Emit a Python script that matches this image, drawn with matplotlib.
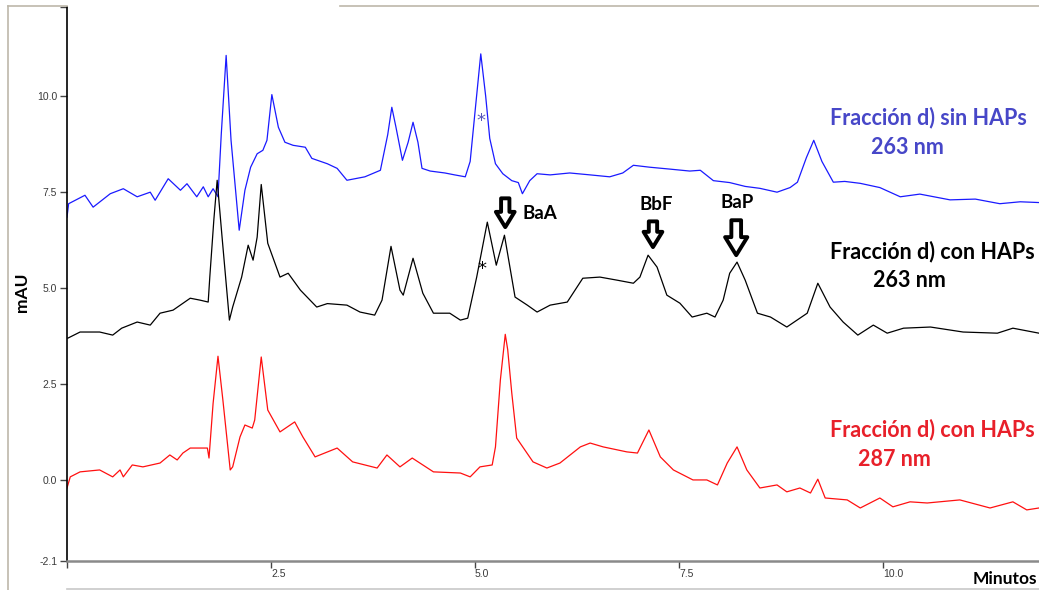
import matplotlib
matplotlib.use('Agg')
import matplotlib.pyplot as plt
from matplotlib.patches import FancyArrowPatch
from matplotlib.lines import Line2D

# chromatogram traces (minutes, mAU)
t_sin = [0.00, 0.02, 0.22, 0.32, 0.53, 0.69, 0.86, 1.02, 1.08, 1.24, 1.39, 1.47, 1.59, 1.67,
         1.73, 1.79, 1.85, 1.89, 1.95, 2.01, 2.11, 2.18, 2.25, 2.33, 2.40, 2.45, 2.51, 2.59,
         2.67, 2.77, 2.92, 3.00, 3.19, 3.31, 3.43, 3.65, 3.84, 3.93, 3.98, 4.03, 4.11, 4.18,
         4.24, 4.30, 4.35, 4.45, 4.63, 4.75, 4.88, 4.94, 5.00, 5.07, 5.13, 5.18, 5.25, 5.34,
         5.45, 5.53, 5.58, 5.67, 5.76, 5.92, 6.16, 6.41, 6.65, 6.81, 6.94, 7.14, 7.39, 7.63,
         7.76, 7.92, 8.12, 8.31, 8.49, 8.70, 8.86, 8.95, 9.06, 9.15, 9.25, 9.39, 9.53, 9.72,
         9.96, 10.21, 10.45, 10.82, 11.13, 11.43, 11.68, 11.91]
y_sin = [6.85, 7.20, 7.42, 7.11, 7.46, 7.59, 7.38, 7.50, 7.29, 7.85, 7.55, 7.72, 7.38, 7.64,
         7.38, 7.59, 7.38, 9.00, 11.06, 8.85, 6.51, 7.55, 8.15, 8.50, 8.59, 8.85, 10.04, 9.19,
         8.80, 8.72, 8.67, 8.38, 8.24, 8.12, 7.81, 7.90, 8.07, 9.00, 9.71, 9.20, 8.33, 8.80,
         9.32, 8.80, 8.12, 8.05, 8.00, 7.95, 7.90, 8.30, 9.60, 11.10, 10.00, 8.90, 8.24, 7.98,
         7.80, 7.75, 7.46, 7.80, 7.98, 7.95, 8.00, 7.95, 7.90, 8.00, 8.20, 8.15, 8.10, 8.05,
         8.07, 7.80, 7.75, 7.65, 7.60, 7.50, 7.62, 7.76, 8.40, 8.85, 8.30, 7.76, 7.78, 7.73,
         7.62, 7.38, 7.45, 7.30, 7.32, 7.20, 7.25, 7.23]

t_con263 = [0.01, 0.16, 0.40, 0.56, 0.67, 0.86, 1.02, 1.14, 1.30, 1.51, 1.63, 1.73, 1.75, 1.80,
            1.84, 1.90, 1.99, 2.03, 2.14, 2.22, 2.28, 2.33, 2.38, 2.46, 2.61, 2.71, 2.86, 3.06,
            3.19, 3.43, 3.59, 3.77, 3.86, 3.97, 4.08, 4.12, 4.24, 4.36, 4.49, 4.69, 4.82, 4.91,
            5.02, 5.15, 5.26, 5.36, 5.49, 5.64, 5.76, 5.92, 6.13, 6.32, 6.53, 6.74, 6.94, 7.02,
            7.12, 7.23, 7.35, 7.51, 7.66, 7.84, 7.94, 8.04, 8.12, 8.21, 8.31, 8.46, 8.62, 8.82,
            9.07, 9.20, 9.35, 9.51, 9.69, 9.88, 10.05, 10.25, 10.58, 10.98, 11.40, 11.59, 11.91]
y_con263 = [3.70, 3.86, 3.86, 3.78, 3.96, 4.12, 4.04, 4.35, 4.43, 4.74, 4.69, 4.64, 5.30, 6.80,
            7.81, 6.33, 4.17, 4.51, 5.29, 6.12, 5.73, 6.33, 7.70, 6.17, 5.29, 5.39, 4.95, 4.51,
            4.60, 4.56, 4.38, 4.30, 4.69, 6.09, 4.95, 4.82, 5.78, 4.87, 4.35, 4.35, 4.17, 4.22,
            5.29, 6.72, 5.60, 6.38, 4.77, 4.56, 4.38, 4.56, 4.64, 5.26, 5.29, 5.21, 5.13, 5.29,
            5.86, 5.55, 4.82, 4.61, 4.25, 4.35, 4.25, 4.69, 5.39, 5.68, 5.21, 4.35, 4.25, 3.99,
            4.35, 5.13, 4.51, 4.12, 3.78, 4.04, 3.83, 3.96, 3.99, 3.86, 3.83, 3.96, 3.83]

t_con287 = [0.00, 0.04, 0.16, 0.40, 0.56, 0.65, 0.69, 0.80, 0.93, 1.14, 1.26, 1.35, 1.42, 1.51,
            1.72, 1.74, 1.79, 1.85, 1.91, 2.00, 2.03, 2.12, 2.18, 2.27, 2.30, 2.38, 2.46, 2.61,
            2.79, 2.89, 3.04, 3.31, 3.50, 3.80, 3.92, 4.08, 4.23, 4.49, 4.82, 4.94, 5.06, 5.21,
            5.25, 5.31, 5.37, 5.40, 5.45, 5.51, 5.71, 5.88, 6.04, 6.29, 6.41, 6.57, 6.86, 6.99,
            7.02, 7.13, 7.27, 7.43, 7.67, 7.84, 7.97, 8.09, 8.21, 8.33, 8.49, 8.70, 8.82, 8.98,
            9.11, 9.20, 9.29, 9.56, 9.72, 9.96, 10.12, 10.33, 10.54, 10.94, 11.31, 11.59, 11.76,
            11.91]
y_con287 = [-0.20, 0.09, 0.22, 0.27, 0.09, 0.27, 0.09, 0.40, 0.35, 0.45, 0.66, 0.53, 0.71, 0.84,
            0.84, 0.58, 2.00, 3.23, 2.09, 0.27, 0.35, 1.13, 1.44, 1.36, 1.57, 3.21, 1.83, 1.26,
            1.52, 1.13, 0.61, 0.84, 0.48, 0.32, 0.66, 0.35, 0.58, 0.22, 0.19, 0.09, 0.35, 0.40,
            0.87, 2.61, 3.80, 3.40, 2.27, 1.10, 0.48, 0.32, 0.45, 0.87, 0.97, 0.87, 0.74, 0.71,
            0.84, 1.31, 0.61, 0.27, 0.01, 0.01, -0.12, 0.45, 0.87, 0.27, -0.20, -0.12, -0.30, -0.20,
            -0.33, 0.03, -0.46, -0.51, -0.72, -0.46, -0.69, -0.56, -0.59, -0.51, -0.72, -0.56, -0.77,
            -0.72]

yticks = [-2.1, 0.0, 2.5, 5.0, 7.5, 10.0, 12.32]
ytick_labels = ['-2.1', '0.0', '2.5', '5.0', '7.5', '10.0', '']
xticks = [0, 2.5, 5.0, 7.5, 10.0]
xtick_labels = ['', '2.5', '5.0', '7.5', '10.0']

# peaks marked with arrows: name, time, tip, top of arrow, label position
peaks = [('BaA', 5.37, 6.59, 7.34, 5.80, 6.95),
         ('BbF', 7.18, 6.07, 6.74, 7.22, 7.19),
         ('BaP', 8.20, 5.86, 6.77, 8.21, 7.24)]

W, H = 1039, 590
fig = plt.figure(figsize=(W / 100, H / 100), dpi=100)
ax = fig.add_axes([67 / W, 1 - 561 / H, (W - 67) / W, (561 - 7) / H])

ax.plot(t_sin, y_sin, color='#1a1aff', lw=0.9)
ax.plot(t_con263, y_con263, color='black', lw=0.9)
ax.plot(t_con287, y_con287, color='#ff1010', lw=0.9)

ax.set_xlim(0, 11.91)
ax.set_ylim(-2.1, 12.32)
for s in ['top', 'right']:
    ax.spines[s].set_visible(False)
ax.spines['left'].set_color('black')
ax.spines['left'].set_linewidth(1.2)
ax.spines['bottom'].set_color('#8a8a8a')
ax.spines['bottom'].set_linewidth(1.8)

ax.set_yticks(yticks)
ax.set_yticklabels(ytick_labels)
ax.set_xticks(xticks)
ax.set_xticklabels(xtick_labels, ha='left')
ax.tick_params(axis='y', direction='out', length=5, width=1, color='#444444',
               labelsize=7.5, labelcolor='#3a3a3a', pad=2)
ax.tick_params(axis='x', direction='out', length=5, width=1, color='#444444',
               labelsize=7.5, labelcolor='#3a3a3a', pad=1)
for lab in ax.get_xticklabels() + ax.get_yticklabels():
    lab.set_family('Liberation Sans')

tf = ['Lato', 'DejaVu Sans']
fig.text(22 / W, 1 - 292 / H, 'mAU', rotation=90, fontsize=12.5, fontweight='bold',
         family=tf, ha='center', va='center')
fig.text(1037 / W, 1 - 579 / H, 'Minutos', fontsize=12.5, fontweight='bold',
         family=tf, ha='right', va='center')

# trace labels
fs = 15.5
ax.text(9.35, 9.45, 'Fracción d) sin HAPs', color='#4747c8', fontsize=fs, fontweight='bold',
        family=tf, va='center')
ax.text(9.85, 8.67, '263 nm', color='#4747c8', fontsize=fs, fontweight='bold',
        family=tf, va='center')
ax.text(9.35, 5.96, 'Fracción d) con HAPs', color='black', fontsize=fs, fontweight='bold',
        family=tf, va='center', clip_on=False)
ax.text(9.87, 5.21, '263 nm', color='black', fontsize=fs, fontweight='bold',
        family=tf, va='center')
ax.text(9.35, 1.31, 'Fracción d) con HAPs', color='#e8202a', fontsize=fs, fontweight='bold',
        family=tf, va='center', clip_on=False)
ax.text(9.69, 0.53, '287 nm', color='#e8202a', fontsize=fs, fontweight='bold',
        family=tf, va='center')

# asterisks
ax.text(5.07, 9.35, '*', color='#5555bb', fontsize=13, ha='center', va='center')
ax.text(5.09, 5.5, '*', color='black', fontsize=13, ha='center', va='center')

for name, xp, tip, top, lx, ly in peaks:
    big = name == 'BaP'
    arr = FancyArrowPatch((xp, top), (xp, tip), mutation_scale=1,
                          arrowstyle='simple,head_length=%s,head_width=%s,tail_width=%s'
                          % ((13, 16, 7) if big else (11, 13.5, 6)),
                          fc='white', ec='black', lw=2.8, shrinkA=0, shrinkB=0, zorder=5)
    ax.add_patch(arr)
    ax.text(lx, ly, name, fontsize=13.5, fontweight='bold', family=tf,
            ha='center', va='center')

# screenshot frame lines
fig.add_artist(Line2D([8 / W, 8 / W], [0, 1 - 6 / H], color='#bdb8aa', lw=1.2))
fig.add_artist(Line2D([8 / W, 67 / W], [1 - 6 / H, 1 - 6 / H], color='#bdb8aa', lw=1.2))
fig.add_artist(Line2D([340 / W, 1], [1 - 6 / H, 1 - 6 / H], color='#bdb8aa', lw=1.2))
fig.add_artist(Line2D([67 / W, 1], [1 - 589 / H, 1 - 589 / H], color='#c8c8c8', lw=1.2))

fig.savefig('out.png', dpi=100)
